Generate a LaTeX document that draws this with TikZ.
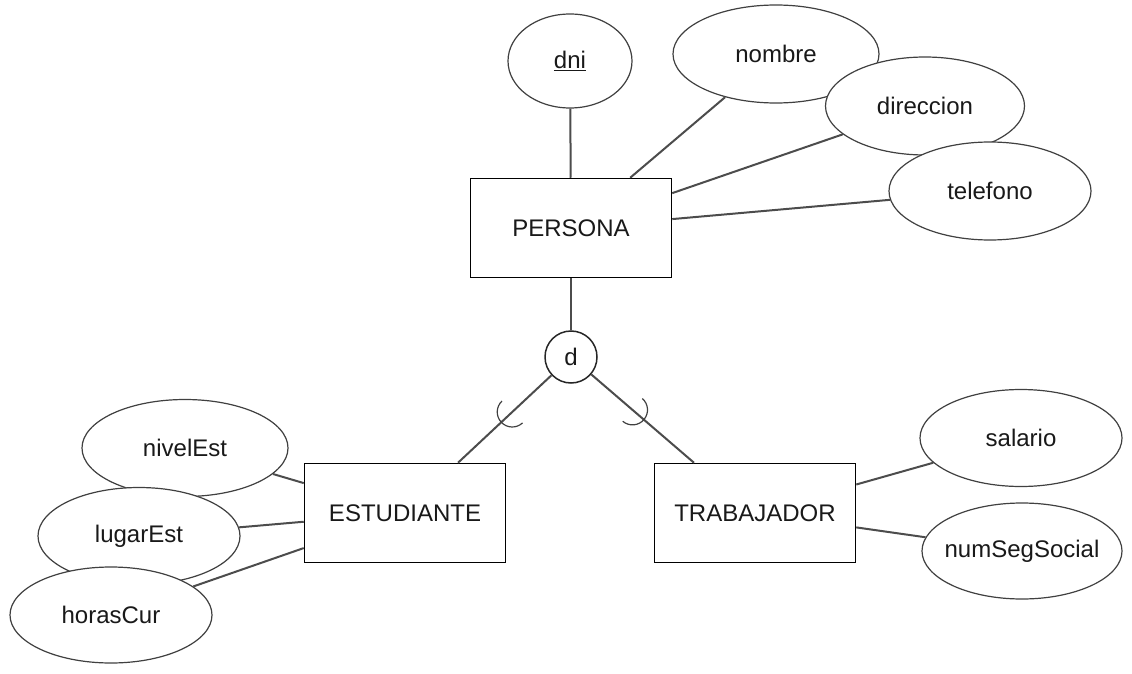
\documentclass[tikz,border=0pt]{standalone}
\usepackage{fontspec}
\setmainfont{Liberation Sans}
\usetikzlibrary{shapes.geometric,calc}
\begin{document}
\begin{tikzpicture}[x=1pt,y=1pt,
  every node/.style={font=\fontsize{24}{28}\selectfont, text=black!90},
  attr/.style={draw=black!75, line width=1.2pt, fill=white, ellipse, inner sep=0pt},
  ent/.style={draw=black, line width=1.5pt, fill=white, rectangle, minimum width=201pt, minimum height=99pt, inner sep=0pt},
  conn/.style={draw=black!70, line width=2pt},
  disj/.style={draw=black!85, line width=1.5pt, fill=white, circle, minimum size=52pt, inner sep=0pt}]
\useasboundingbox (0,0) rectangle (1132,-674);
% entities
\node[ent] (per) at (571,-228) {PERSONA};
\node[ent] (est) at (405,-513) {ESTUDIANTE};
\node[ent] (tra) at (755,-513) {TRABAJADOR};
\node[disj] (d) at (571,-357) {d};
% attributes of PERSONA
\node[attr, minimum width=124pt, minimum height=94pt] (dni) at (570,-61) {\underline{dni}};
\node[attr, minimum width=206pt, minimum height=98pt] (nom) at (776,-54) {nombre};
\node[attr, minimum width=199pt, minimum height=98pt] (dir) at (925,-106) {direccion};
\node[attr, minimum width=202pt, minimum height=98pt] (tel) at (990,-191) {telefono};
% attributes of ESTUDIANTE
\node[attr, minimum width=206pt, minimum height=97pt] (niv) at (185,-448) {nivelEst};
\node[attr, minimum width=202pt, minimum height=97pt] (lug) at (139,-536) {lugarEst};
\node[attr, minimum width=202pt, minimum height=96pt] (hor) at (111,-615) {horasCur};
% attributes of TRABAJADOR
\node[attr, minimum width=202pt, minimum height=97pt] (sal) at (1021,-438) {salario};
\node[attr, minimum width=200pt, minimum height=96pt, inner xsep=-12pt] (nss) at (1022,-551) {numSegSocial};
% connectors
\draw[conn] (per) -- (dni);
\draw[conn] (per) -- (nom);
\draw[conn] (per) -- (dir);
\draw[conn] (per) -- (tel);
\draw[conn] (est) -- (niv);
\draw[conn] (est) -- (lug);
\draw[conn] (est) -- (hor);
\draw[conn] (tra) -- (sal);
\draw[conn] (tra) -- (nss);
\draw[conn] (per) -- (d);
\coordinate (ea) at ($(est.north)+(53,0)$);
\coordinate (ta) at ($(tra.north)+(-61,0)$);
\draw[conn] (d) -- (ea);
\draw[conn] (d) -- (ta);
% subset symbols
\coordinate (p1) at ($(d.center)!0.52!(ea)$);
\coordinate (p2) at ($(d.center)!0.50!(ta)$);
\draw[draw=black!75, line width=1.2pt] ([shift={(133.2:15)}]p1) arc[start angle=133.2, end angle=313.2, radius=15];
\draw[draw=black!75, line width=1.2pt] ([shift={(229.25:15)}]p2) arc[start angle=229.25, end angle=409.25, radius=15];
\end{tikzpicture}
\end{document}
